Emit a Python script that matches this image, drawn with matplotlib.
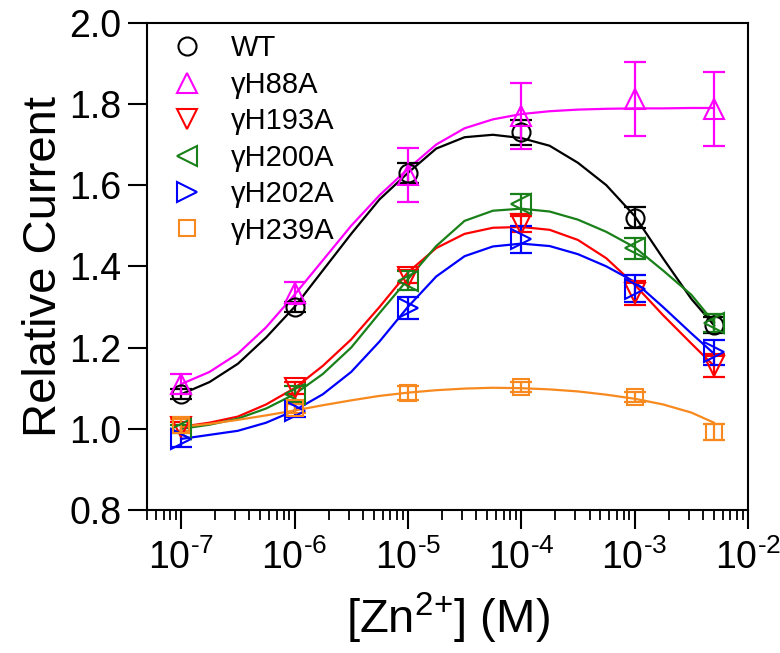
import numpy as np
import matplotlib
matplotlib.use("Agg")
import matplotlib.pyplot as plt
from matplotlib.ticker import LogLocator, NullFormatter, FixedLocator

plt.rcParams["font.family"] = ["Liberation Sans", "DejaVu Sans"]
plt.rcParams["mathtext.fontset"] = "custom"
plt.rcParams["mathtext.rm"] = "Liberation Sans"
plt.rcParams["mathtext.it"] = "Liberation Sans"

# ── Data ────────────────────────────────────────────────────────────────────
ZN = [1e-7, 1e-6, 1e-5, 1e-4, 1e-3, 5e-3]
XTICKS = [1e-7, 1e-6, 1e-5, 1e-4, 1e-3, 1e-2]
XTICK_EXP = ["-7", "-6", "-5", "-4", "-3", "-2"]

NAMES   = ["WT", "γH88A", "γH193A", "γH200A", "γH202A", "γH239A"]
COLORS  = ["black", "#FF00FF", "#FF0000", "#1A8019", "#0000FF", "#F7891E"]
MARKERS = ["o", "^", "v", "<", ">", "s"]

wt_mean    = [1.085, 1.300, 1.630, 1.730, 1.520, 1.255]
wt_err     = [0.012, 0.012, 0.025, 0.030, 0.026, 0.020]
h88a_mean  = [1.110, 1.335, 1.625, 1.770, 1.812, 1.787]
h88a_err   = [0.025, 0.027, 0.067, 0.082, 0.090, 0.091]
h193a_mean = [1.005, 1.100, 1.375, 1.505, 1.335, 1.155]
h193a_err  = [0.012, 0.015, 0.015, 0.020, 0.030, 0.028]
h200a_mean = [1.000, 1.085, 1.365, 1.553, 1.444, 1.260]
h200a_err  = [0.010, 0.020, 0.023, 0.025, 0.025, 0.022]
h202a_mean = [0.975, 1.045, 1.297, 1.467, 1.345, 1.188]
h202a_err  = [0.020, 0.015, 0.027, 0.033, 0.033, 0.030]
h239a_mean = [1.010, 1.050, 1.089, 1.103, 1.078, 0.993]
h239a_err  = [0.015, 0.012, 0.017, 0.012, 0.012, 0.020]

# fitted curves, read at quarter-decade steps of log10[Zn2+]
CURVE_LOGX = [-7.0, -6.75, -6.5, -6.25, -6.0, -5.75, -5.5, -5.25, -5.0, -4.75,
              -4.5, -4.25, -4.0, -3.75, -3.5, -3.25, -3.0, -2.75, -2.5, -2.3]
wt_fit    = [1.085, 1.115, 1.160, 1.225, 1.300, 1.390, 1.480, 1.565, 1.630, 1.690,
             1.718, 1.724, 1.716, 1.697, 1.655, 1.600, 1.524, 1.420, 1.320, 1.255]
h88a_fit  = [1.110, 1.140, 1.185, 1.250, 1.330, 1.415, 1.500, 1.575, 1.640, 1.700,
             1.740, 1.762, 1.775, 1.782, 1.786, 1.788, 1.789, 1.789, 1.790, 1.790]
h193a_fit = [1.005, 1.015, 1.030, 1.060, 1.100, 1.155, 1.220, 1.300, 1.385, 1.445,
             1.480, 1.495, 1.497, 1.490, 1.465, 1.420, 1.355, 1.280, 1.210, 1.155]
h200a_fit = [1.000, 1.010, 1.025, 1.050, 1.085, 1.135, 1.200, 1.285, 1.368, 1.450,
             1.512, 1.537, 1.542, 1.535, 1.515, 1.485, 1.447, 1.390, 1.330, 1.262]
h202a_fit = [0.975, 0.985, 0.995, 1.015, 1.045, 1.085, 1.140, 1.215, 1.300, 1.375,
             1.425, 1.449, 1.456, 1.450, 1.430, 1.400, 1.362, 1.300, 1.235, 1.185]
h239a_fit = [1.005, 1.012, 1.022, 1.033, 1.045, 1.058, 1.070, 1.081, 1.089, 1.095,
             1.099, 1.101, 1.100, 1.097, 1.092, 1.084, 1.074, 1.060, 1.040, 1.015]

MEANS = [wt_mean, h88a_mean, h193a_mean, h200a_mean, h202a_mean, h239a_mean]
ERRS  = [wt_err, h88a_err, h193a_err, h200a_err, h202a_err, h239a_err]
FITS  = [wt_fit, h88a_fit, h193a_fit, h200a_fit, h202a_fit, h239a_fit]
MSIZE = [13, 15, 15, 15, 15, 12]

# ── Figure ──────────────────────────────────────────────────────────────────
fig = plt.figure(figsize=(7.8, 6.53), dpi=100)
ax = fig.add_axes([147/780, 1 - 510/653, (748 - 147)/780, (510 - 22.7)/653])

curve_x = 10.0 ** np.array(CURVE_LOGX)
for name, c, m, ms, mean, err, fit in zip(NAMES, COLORS, MARKERS, MSIZE, MEANS, ERRS, FITS):
    ax.plot(curve_x, fit, color=c, lw=1.6, zorder=2)
    ax.errorbar(ZN, mean, yerr=err, fmt="none", ecolor=c, elinewidth=1.6,
                capsize=8, capthick=1.6, zorder=3)
    ax.plot(ZN, mean, ls="none", marker=m, ms=ms, mfc="none", mec=c, mew=1.5,
            label=name, zorder=4)

ax.set_xscale("log")
ax.set_xlim(5e-8, 1e-2)
ax.set_ylim(0.8, 2.0)

ax.xaxis.set_major_locator(FixedLocator(XTICKS))
ax.set_xticklabels([r"$10^{\text{%s}}$" % e for e in XTICK_EXP])
ax.xaxis.set_minor_locator(LogLocator(base=10, subs=np.arange(2, 10), numticks=20))
ax.xaxis.set_minor_formatter(NullFormatter())
ax.set_yticks([0.8, 1.0, 1.2, 1.4, 1.6, 1.8, 2.0])
ax.set_yticklabels(["0.8", "1.0", "1.2", "1.4", "1.6", "1.8", "2.0"])

ax.tick_params(axis="both", which="major", direction="out", length=13.5, width=1.5,
               labelsize=27, top=False, right=False)
ax.tick_params(axis="x", which="minor", direction="out", length=7, width=1.3)
ax.tick_params(axis="x", which="major", pad=8)
ax.tick_params(axis="y", which="major", pad=5)
for s in ax.spines.values():
    s.set_linewidth(1.5)

ax.set_ylabel("Relative Current", fontsize=34, labelpad=2)
ax.set_xlabel(r"[Zn$^{\text{2+}}$] (M)", fontsize=34, labelpad=10)

ax.legend(loc="upper left", bbox_to_anchor=(0.013, 1.012), frameon=False, fontsize=21,
          handlelength=1.0, handletextpad=1.0, labelspacing=0.29,
          borderaxespad=0.3, borderpad=0.3)

fig.savefig("out.png", dpi=100)
